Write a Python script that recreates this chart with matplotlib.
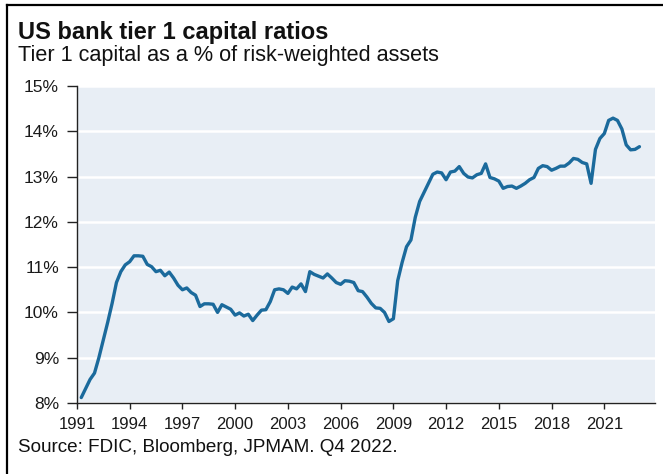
import matplotlib.pyplot as plt
import matplotlib.dates as mdates
from matplotlib.lines import Line2D
from matplotlib.ticker import FuncFormatter, MultipleLocator
import pandas as pd

plt.rcParams['font.family'] = ['Liberation Sans', 'DejaVu Sans']

# quarterly tier 1 ratio (%), 1991Q1 .. 2022Q4
quarters = pd.period_range("1991Q1", "2022Q4", freq="Q")
tier1 = [
    8.12, 8.32, 8.52, 8.66,      # 1991
    9.00, 9.39, 9.78, 10.20,     # 1992
    10.66, 10.90, 11.05, 11.12,  # 1993
    11.25, 11.25, 11.24, 11.06,  # 1994
    11.01, 10.90, 10.93, 10.81,  # 1995
    10.89, 10.76, 10.60, 10.50,  # 1996
    10.54, 10.44, 10.38, 10.13,  # 1997
    10.19, 10.19, 10.18, 10.00,  # 1998
    10.17, 10.12, 10.07, 9.94,   # 1999
    9.99, 9.92, 9.96, 9.82,      # 2000
    9.94, 10.05, 10.06, 10.24,   # 2001
    10.50, 10.52, 10.50, 10.42,  # 2002
    10.56, 10.52, 10.63, 10.46,  # 2003
    10.90, 10.84, 10.80, 10.76,  # 2004
    10.85, 10.76, 10.66, 10.62,  # 2005
    10.70, 10.69, 10.66, 10.48,  # 2006
    10.46, 10.34, 10.20, 10.10,  # 2007
    10.09, 10.00, 9.80, 9.86,    # 2008
    10.70, 11.10, 11.45, 11.60,  # 2009
    12.10, 12.45, 12.65, 12.85,  # 2010
    13.05, 13.10, 13.08, 12.93,  # 2011
    13.10, 13.12, 13.22, 13.07,  # 2012
    12.99, 12.97, 13.04, 13.07,  # 2013
    13.28, 12.98, 12.95, 12.90,  # 2014
    12.74, 12.78, 12.79, 12.74,  # 2015
    12.79, 12.85, 12.93, 12.98,  # 2016
    13.18, 13.24, 13.22, 13.14,  # 2017
    13.18, 13.23, 13.23, 13.30,  # 2018
    13.40, 13.38, 13.31, 13.28,  # 2019
    12.85, 13.60, 13.84, 13.95,  # 2020
    14.24, 14.29, 14.24, 14.05,  # 2021
    13.70, 13.59, 13.60, 13.66,  # 2022
]
tick_years = list(range(1991, 2022, 3))

dates = quarters.end_time.normalize()

fig = plt.figure(figsize=(6.63, 4.74), dpi=100)
ax = fig.add_axes([0.1161, 0.1498, 0.8719, 0.6688])
ax.set_facecolor("#E8EEF5")

ax.plot(dates, tier1, color="#1B6A9C", lw=2.4,
        solid_joinstyle="round", solid_capstyle="round", zorder=3)

ax.set_ylim(8, 15)
ax.yaxis.set_major_locator(MultipleLocator(1))
ax.yaxis.set_major_formatter(FuncFormatter(lambda v, p: f"{v:.0f}%"))
ax.grid(axis="y", color="white", lw=1.8, zorder=1)
ax.set_axisbelow(True)

ax.set_xlim(pd.Timestamp("1991-01-01"), pd.Timestamp("2023-11-20"))
ax.set_xticks([pd.Timestamp(f"{y}-01-01") for y in tick_years])
ax.xaxis.set_major_formatter(mdates.DateFormatter("%Y"))

for s in ["top", "right"]:
    ax.spines[s].set_visible(False)
for s in ["left", "bottom"]:
    ax.spines[s].set_color("#222222")
    ax.spines[s].set_linewidth(1.0)
ax.tick_params(direction="out", width=1.0, color="#222222",
               labelsize=12.5, labelcolor="#1a1a1a")
ax.tick_params(axis="y", length=7, pad=6)
ax.tick_params(axis="x", length=4, pad=6, labelsize=12)

fig.text(0.027, 0.9177, "US bank tier 1 capital ratios", fontsize=17,
         fontweight="bold", va="baseline", color="#111111")
fig.text(0.027, 0.8713, "Tier 1 capital as a % of risk-weighted assets",
         fontsize=15.6, va="baseline", color="#111111")
fig.text(0.027, 0.046, "Source: FDIC, Bloomberg, JPMAM. Q4 2022.",
         fontsize=13.6, va="baseline", color="#111111")

# frame lines along the left and top edge
fig.add_artist(Line2D([0.0105, 0.0105], [0.0, 0.99], color="black", lw=1.6))
fig.add_artist(Line2D([0.0105, 1.0], [0.99, 0.99], color="black", lw=1.6))

fig.savefig("out.png", dpi=100)
